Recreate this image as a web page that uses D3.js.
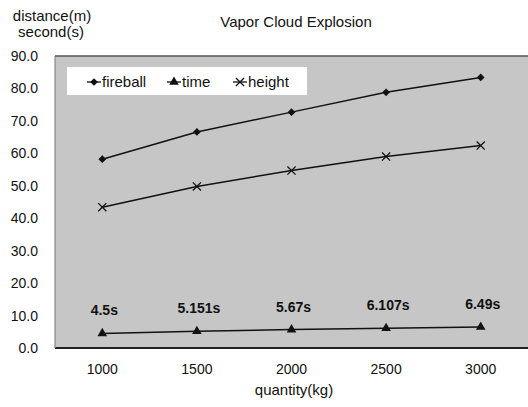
<!DOCTYPE html>
<html lang="en">
<head>
    <meta charset="UTF-8">
    <title>Vapor Cloud Explosion</title>
    <script src="https://cdnjs.cloudflare.com/ajax/libs/d3/7.8.5/d3.min.js"></script>
    <style>
        body { margin: 0; padding: 0; background: #fff; }
        svg { display: block; font-family: "Liberation Sans", Arial, sans-serif; }
    </style>
</head>
<body>
<div id="chart"></div>
<script>
    // chart data
    const quantities = ["1000", "1500", "2000", "2500", "3000"];
    const fireball = [58.2, 66.6, 72.7, 78.8, 83.4];
    const height = [43.4, 49.8, 54.7, 59.0, 62.4];
    const time = [4.5, 5.151, 5.67, 6.107, 6.49];
    const timeLabels = ["4.5s", "5.151s", "5.67s", "6.107s", "6.49s"];
    const yTicks = [0, 10, 20, 30, 40, 50, 60, 70, 80, 90];

    const W = 528, H = 407;
    const margin = { top: 56, right: 0, bottom: 59, left: 55 };
    const font = '"Liberation Sans", Arial, sans-serif';

    const svg = d3.select('#chart').append('svg')
        .attr('width', W)
        .attr('height', H);

    const x = d3.scaleBand()
        .domain(quantities)
        .range([margin.left, W - margin.right]);

    const y = d3.scaleLinear()
        .domain([0, 90])
        .range([H - margin.bottom, margin.top]);

    // plot area background
    svg.append('rect')
        .attr('x', margin.left)
        .attr('y', margin.top)
        .attr('width', W - margin.left - margin.right)
        .attr('height', y(0) - y(90))
        .attr('fill', '#c6c6c6');

    svg.append('line')
        .attr('x1', margin.left).attr('x2', W)
        .attr('y1', y(90)).attr('y2', y(90))
        .attr('stroke', '#555').attr('stroke-width', 1.5);
    svg.append('line')
        .attr('x1', margin.left).attr('x2', W)
        .attr('y1', y(0)).attr('y2', y(0))
        .attr('stroke', '#222').attr('stroke-width', 2);
    svg.append('line')
        .attr('x1', margin.left).attr('x2', margin.left)
        .attr('y1', y(90)).attr('y2', y(0))
        .attr('stroke', '#777').attr('stroke-width', 1);

    // axes
    const yAxis = svg.append('g')
        .attr('transform', `translate(${margin.left},0)`)
        .call(d3.axisLeft(y).tickValues(yTicks).tickFormat(d3.format('.1f')).tickSize(0).tickPadding(17));
    yAxis.select('.domain').remove();
    yAxis.selectAll('text').attr('font-size', 14).attr('fill', '#111').attr('font-family', font);

    const xAxis = svg.append('g')
        .attr('transform', `translate(0,${y(0)})`)
        .call(d3.axisBottom(x).tickSize(0).tickPadding(16));
    xAxis.select('.domain').remove();
    xAxis.selectAll('text').attr('font-size', 14).attr('fill', '#111').attr('font-family', font);

    const cx = d => x(d) + x.bandwidth() / 2;

    // lines
    const line = d3.line().x((d, i) => cx(quantities[i])).y(d => y(d));
    [fireball, height, time].forEach(s => {
        svg.append('path')
            .datum(s)
            .attr('d', line)
            .attr('fill', 'none')
            .attr('stroke', '#111')
            .attr('stroke-width', 1.5);
    });

    // markers (square turned 45deg for the fireball diamond)
    const diamond = d3.symbol().type(d3.symbolSquare).size(30);
    const tri = d3.symbol().type(d3.symbolTriangle).size(40);
    const cross = d3.symbol().type(d3.symbolX).size(45);

    svg.append('g').selectAll('path').data(fireball).join('path')
        .attr('transform', (d, i) => `translate(${cx(quantities[i])},${y(d)}) rotate(45)`)
        .attr('d', diamond).attr('fill', '#111');
    svg.append('g').selectAll('path').data(time).join('path')
        .attr('transform', (d, i) => `translate(${cx(quantities[i])},${y(d)})`)
        .attr('d', tri).attr('fill', '#111');
    svg.append('g').selectAll('path').data(height).join('path')
        .attr('transform', (d, i) => `translate(${cx(quantities[i])},${y(d)})`)
        .attr('d', cross).attr('fill', 'none').attr('stroke', '#111').attr('stroke-width', 1.3);

    // time labels
    svg.append('g').selectAll('text').data(time).join('text')
        .attr('x', (d, i) => cx(quantities[i]) + 2)
        .attr('y', d => y(d) - 18)
        .attr('text-anchor', 'middle')
        .attr('font-size', 14)
        .attr('font-weight', 'bold')
        .attr('fill', '#111')
        .text((d, i) => timeLabels[i]);

    // legend
    const lg = svg.append('g');
    lg.append('rect')
        .attr('x', 67).attr('y', 67)
        .attr('width', 240).attr('height', 28)
        .attr('fill', '#fff');
    const legendItems = [
        { name: 'fireball', sym: diamond, rot: 45, x: 94, fill: '#111' },
        { name: 'time', sym: tri, rot: 0, x: 174, fill: '#111' },
        { name: 'height', sym: cross, rot: 0, x: 240, fill: 'none' }
    ];
    legendItems.forEach(it => {
        lg.append('line')
            .attr('x1', it.x - 7).attr('x2', it.x + 7)
            .attr('y1', 82).attr('y2', 82)
            .attr('stroke', '#111').attr('stroke-width', 1.3);
        lg.append('path')
            .attr('transform', `translate(${it.x},82) rotate(${it.rot})`)
            .attr('d', it.sym)
            .attr('fill', it.fill)
            .attr('stroke', it.fill === 'none' ? '#111' : null)
            .attr('stroke-width', 1.3);
        lg.append('text')
            .attr('x', it.x + 8).attr('y', 87)
            .attr('font-size', 15)
            .attr('fill', '#111')
            .text(it.name);
    });

    // titles
    const title = (t, tx, ty) => svg.append('text')
        .attr('x', tx).attr('y', ty)
        .attr('text-anchor', 'middle')
        .attr('font-size', 15)
        .attr('fill', '#111')
        .text(t);
    title('Vapor Cloud Explosion', 296, 27);
    title('distance(m)', 52, 21);
    title('second(s)', 51, 37);
    title('quantity(kg)', 294, 395);
</script>
</body>
</html>
